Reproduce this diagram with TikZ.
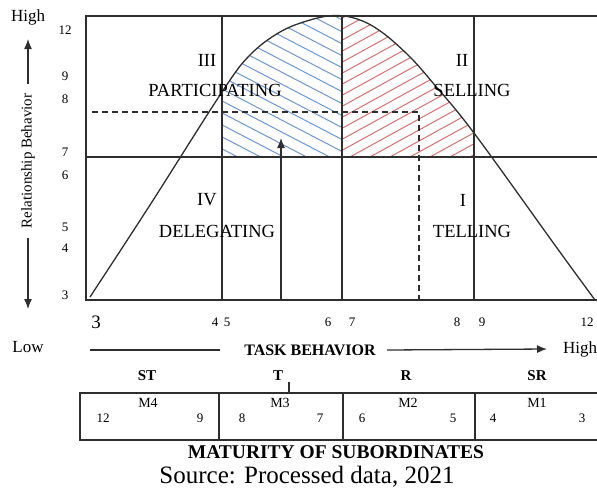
\documentclass[tikz,border=0pt]{standalone}
\usepackage{fontspec}
\setmainfont{Liberation Serif}
\usepackage{xcolor}
\usetikzlibrary{arrows.meta, positioning}
\definecolor{trait}{HTML}{2E2E2E}
\definecolor{bleuhach}{HTML}{6A98D4}
\definecolor{rougehach}{HTML}{D87070}

\tikzset{
  ligne/.style={trait, line width=1.3pt},
  hachure/.style={line width=1pt},
  quadrant/.style={font=\fontsize{18.5}{20}\selectfont, inner sep=0pt},
  graduation/.style={font=\fontsize{13}{15}\selectfont, inner sep=0pt},
  axe/.style={font=\fontsize{17}{19}\selectfont, inner sep=0pt},
  style/.style={font=\fontsize{15}{17}\selectfont\bfseries, inner sep=0pt},
  fleche/.style={trait, line width=1.3pt, -{Latex[length=10pt,width=8pt]}},
}

\begin{document}
\begin{tikzpicture}[x=1pt, y=-1pt]
    \useasboundingbox (0,0) rectangle (597,488);
    \def\courbe{plot[smooth, tension=0.6] coordinates {(90,297) (150,205) (222,92) (250,55) (280,32) (310,20) (336,15.5) (360,20) (383,33) (410,57) (433,83) (474,133) (557,248) (595,300)}}

    % Hachures
    \begin{scope}
      \clip \courbe -- cycle;
      \clip (222,16) rectangle (342,157);
      \foreach \xb in {215,238,...,630}
        \draw[hachure, bleuhach] (\xb-302,0) -- ++(342,178);
    \end{scope}
    \begin{scope}
      \clip \courbe -- cycle;
      \clip (342,16) rectangle (474,157);
      \foreach \xb in {70,90,...,490}
        \draw[hachure, rougehach] (\xb-20,168) -- (\xb+285,0);
    \end{scope}

    % Grille
    \draw[ligne] (86,16) rectangle (602,300);
    \draw[ligne] (222,16) -- (222,300);
    \draw[ligne] (342,16) -- (342,300);
    \draw[ligne] (474,16) -- (474,300);
    \draw[ligne] (86,157) -- (602,157);
    \draw[ligne] \courbe;
    \draw[ligne, line width=1.1pt, dash pattern=on 6pt off 4pt] (92,112) -- (419,112) -- (419,300);
    \coordinate (pied) at (281,300);
    \coordinate (pointe) at (281,138);
    \draw[fleche] (pied) -- (pointe);

    % Quadrants
    \node[quadrant] (q3) at (207,60) {III};
    \node[quadrant] (participer) at (215,90) {PARTICIPATING};
    \node[quadrant] (q4) at (207,200) {IV};
    \node[quadrant] (deleguer) at (217,231) {DELEGATING};
    \node[quadrant] (q2) at (462,60) {II};
    \node[quadrant] (vendre) at (472,90) {SELLING};
    \node[quadrant] (q1) at (463,200) {I};
    \node[quadrant] (dire) at (472,231) {TELLING};

    % Axe vertical
    \foreach \val/\y in {12/30, 9/76, 8/99, 7/152, 6/175, 5/227, 4/248, 3/295}
      \node[graduation] (ry\val) at (65,\y) {\val};
    \node[font=\fontsize{15}{17}\selectfont, rotate=90, inner sep=0pt] (relation) at (28,161) {Relationship Behavior};
    \node[axe] (hautr) at (28,17) {High};
    \node[axe] (basr) at (28,347) {Low};
    \coordinate (flechehaut) at (28,39);
    \coordinate (flechebas) at (28,309);
    \draw[fleche] ([yshift=10pt]relation.east) -- (flechehaut);
    \draw[fleche] ([yshift=-10pt]relation.west) -- (flechebas);

    % Axe horizontal
    \node[font=\fontsize{19}{21}\selectfont, inner sep=0pt] (tx3) at (96,322) {3};
    \foreach \val/\x in {4/215, 5/227, 6/328, 7/352, 8/457, 9/482, 12/587}
      \node[graduation] (tx\val) at (\x,322) {\val};
    \node[font=\fontsize{16}{18}\selectfont\bfseries, inner sep=0pt] (tache) at (310,350) {TASK BEHAVIOR};
    \node[axe, anchor=west] (hautt) at (563,349) {High};
    \coordinate (tachedebut) at (90,350);
    \draw[ligne] (tachedebut) -- ([xshift=-24pt]tache.west);
    \draw[fleche] ([xshift=11pt]tache.east) -- ([xshift=-16pt]hautt.west);

    % Styles et maturite
    \node[style] (st) at (147,376) {ST};
    \node[style] (t) at (278,376) {T};
    \node[style] (r) at (406,376) {R};
    \node[style] (sr) at (537,376) {SR};
    \draw[ligne] (289,382) -- (289,393);
    \draw[ligne] (80,393) rectangle (602,440);
    \draw[ligne] (219,393) -- (219,440);
    \draw[ligne] (343,393) -- (343,440);
    \draw[ligne] (475,393) -- (475,440);
    \foreach \m/\x in {4/148, 3/280, 2/408, 1/537}
      \node[graduation, font=\fontsize{14}{16}\selectfont] (m\m) at (\x,403) {M\m};
    \foreach \n/\val/\x in {a/12/103, b/9/200, c/8/242, d/7/320, e/6/362, f/5/453, g/4/493, h/3/582}
      \node[graduation] (mat\n) at (\x,418) {\val};
    \node[font=\fontsize{19.5}{21}\selectfont\bfseries, inner sep=0pt, anchor=base] (maturite) at (336,458) {MATURITY OF SUBORDINATES};
    \node[font=\fontsize{25}{27}\selectfont, inner sep=0pt, anchor=base] (source) at (307,483) {Source: Processed data, 2021};
\end{tikzpicture}
\end{document}
